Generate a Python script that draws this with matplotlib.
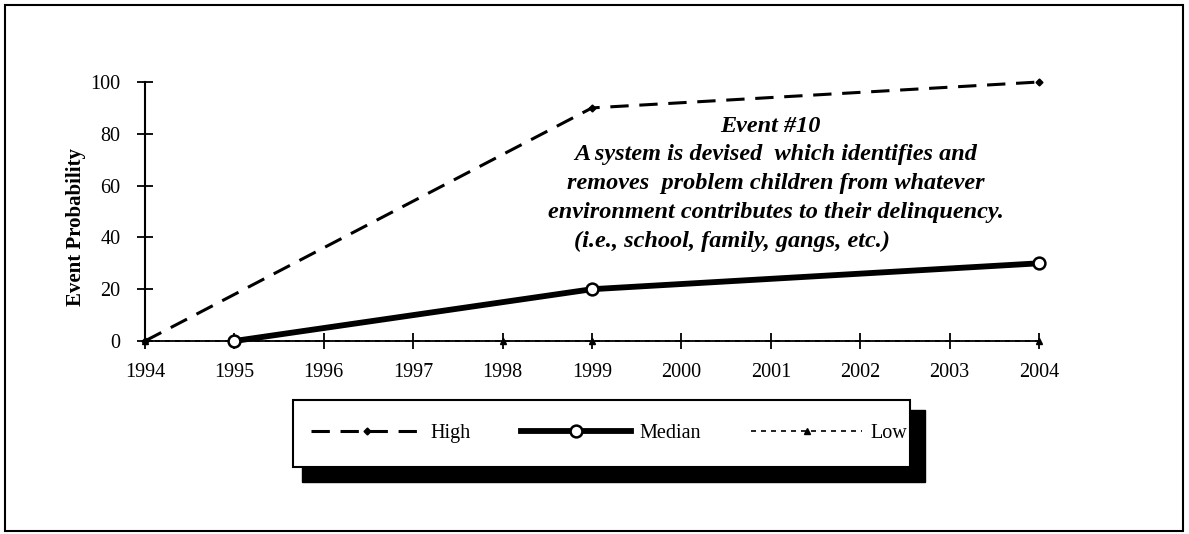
import matplotlib
matplotlib.use("Agg")
import matplotlib.pyplot as plt
from matplotlib.patches import Rectangle

# data
years = list(range(1994, 2005))
high_x = [1994, 1999, 2004]
high_y = [0, 90, 100]
median_x = [1995, 1999, 2004]
median_y = [0, 20, 30]
low_x = [1994, 1998, 1999, 2004]
low_y = [0, 0, 0, 0]
y_ticks = [0, 20, 40, 60, 80, 100]
note_lines = [
    "Event #10",
    "A system is devised  which identifies and",
    "removes  problem children from whatever",
    "environment contributes to their delinquency.",
    "(i.e., school, family, gangs, etc.)",
]
# horizontal centre of each note line (axes fraction)
note_x = [0.70, 0.706, 0.706, 0.706, 0.657]

W, H = 1189, 534
plt.rcParams["font.family"] = ["Liberation Serif", "DejaVu Serif"]

fig = plt.figure(figsize=(W / 100, H / 100), dpi=100)


# pixel box -> figure fraction
def fbox(x0, y0, x1, y1):
    return [x0 / W, 1 - y1 / H, (x1 - x0) / W, (y1 - y0) / H]


ax = fig.add_axes(fbox(145, 82, 1039, 341))
ax.set_xlim(1994, 2004)
ax.set_ylim(0, 100)

ax.plot(low_x, low_y, color="black", lw=1.2, ls=(0, (3, 3)),
        marker="^", ms=5, clip_on=False, zorder=3, label="Low")
ax.plot(high_x, high_y, color="black", lw=2.2, ls=(0, (6, 3.5)),
        marker="D", ms=3.5, clip_on=False, zorder=4, label="High")
ax.plot(median_x, median_y, color="black", lw=4.2, marker="o", ms=8.5,
        mfc="white", mec="black", mew=1.8, clip_on=False, zorder=5,
        label="Median")

for s in ["top", "right"]:
    ax.spines[s].set_visible(False)
ax.spines["left"].set_linewidth(1.5)
ax.spines["bottom"].set_linewidth(1.3)

ax.set_xticks(years)
ax.set_yticks(y_ticks)
ax.tick_params(direction="inout", length=11, width=1.3, labelsize=14.5)
ax.tick_params(axis="x", pad=10)
ax.tick_params(axis="y", pad=12)
ax.set_ylabel("Event Probability", fontsize=15, fontweight="bold")
ax.yaxis.set_label_coords(-0.066, 0.44)

for i, line in enumerate(note_lines):
    ax.text(note_x[i], 0.83 - i * 0.111, line, transform=ax.transAxes,
            ha="center", va="center", fontsize=17.5, style="italic",
            fontweight="bold")

# legend box with heavy shadow
fig.patches.append(Rectangle((302 / W, 1 - 482 / H), 623 / W, 72 / H,
                             transform=fig.transFigure, facecolor="black",
                             edgecolor="black", zorder=1))
fig.patches.append(Rectangle((293 / W, 1 - 467 / H), 617 / W, 67 / H,
                             transform=fig.transFigure, facecolor="white",
                             edgecolor="black", lw=1.5, zorder=2))

handles, labels = ax.get_legend_handles_labels()
order = [1, 2, 0]
leg = fig.legend([handles[i] for i in order], [labels[i] for i in order],
                 loc="center", bbox_to_anchor=(609 / W, 1 - 433 / H),
                 ncol=3, frameon=False, fontsize=14.5, handlelength=5.5,
                 columnspacing=2.5, handletextpad=0.4, numpoints=1)
leg.set_zorder(3)

# outer frame
fig.patches.append(Rectangle((5 / W, 1 - 531 / H), 1178 / W, 526 / H,
                             transform=fig.transFigure, facecolor="none",
                             edgecolor="black", lw=1.5))

fig.savefig("out.png", dpi=100)
